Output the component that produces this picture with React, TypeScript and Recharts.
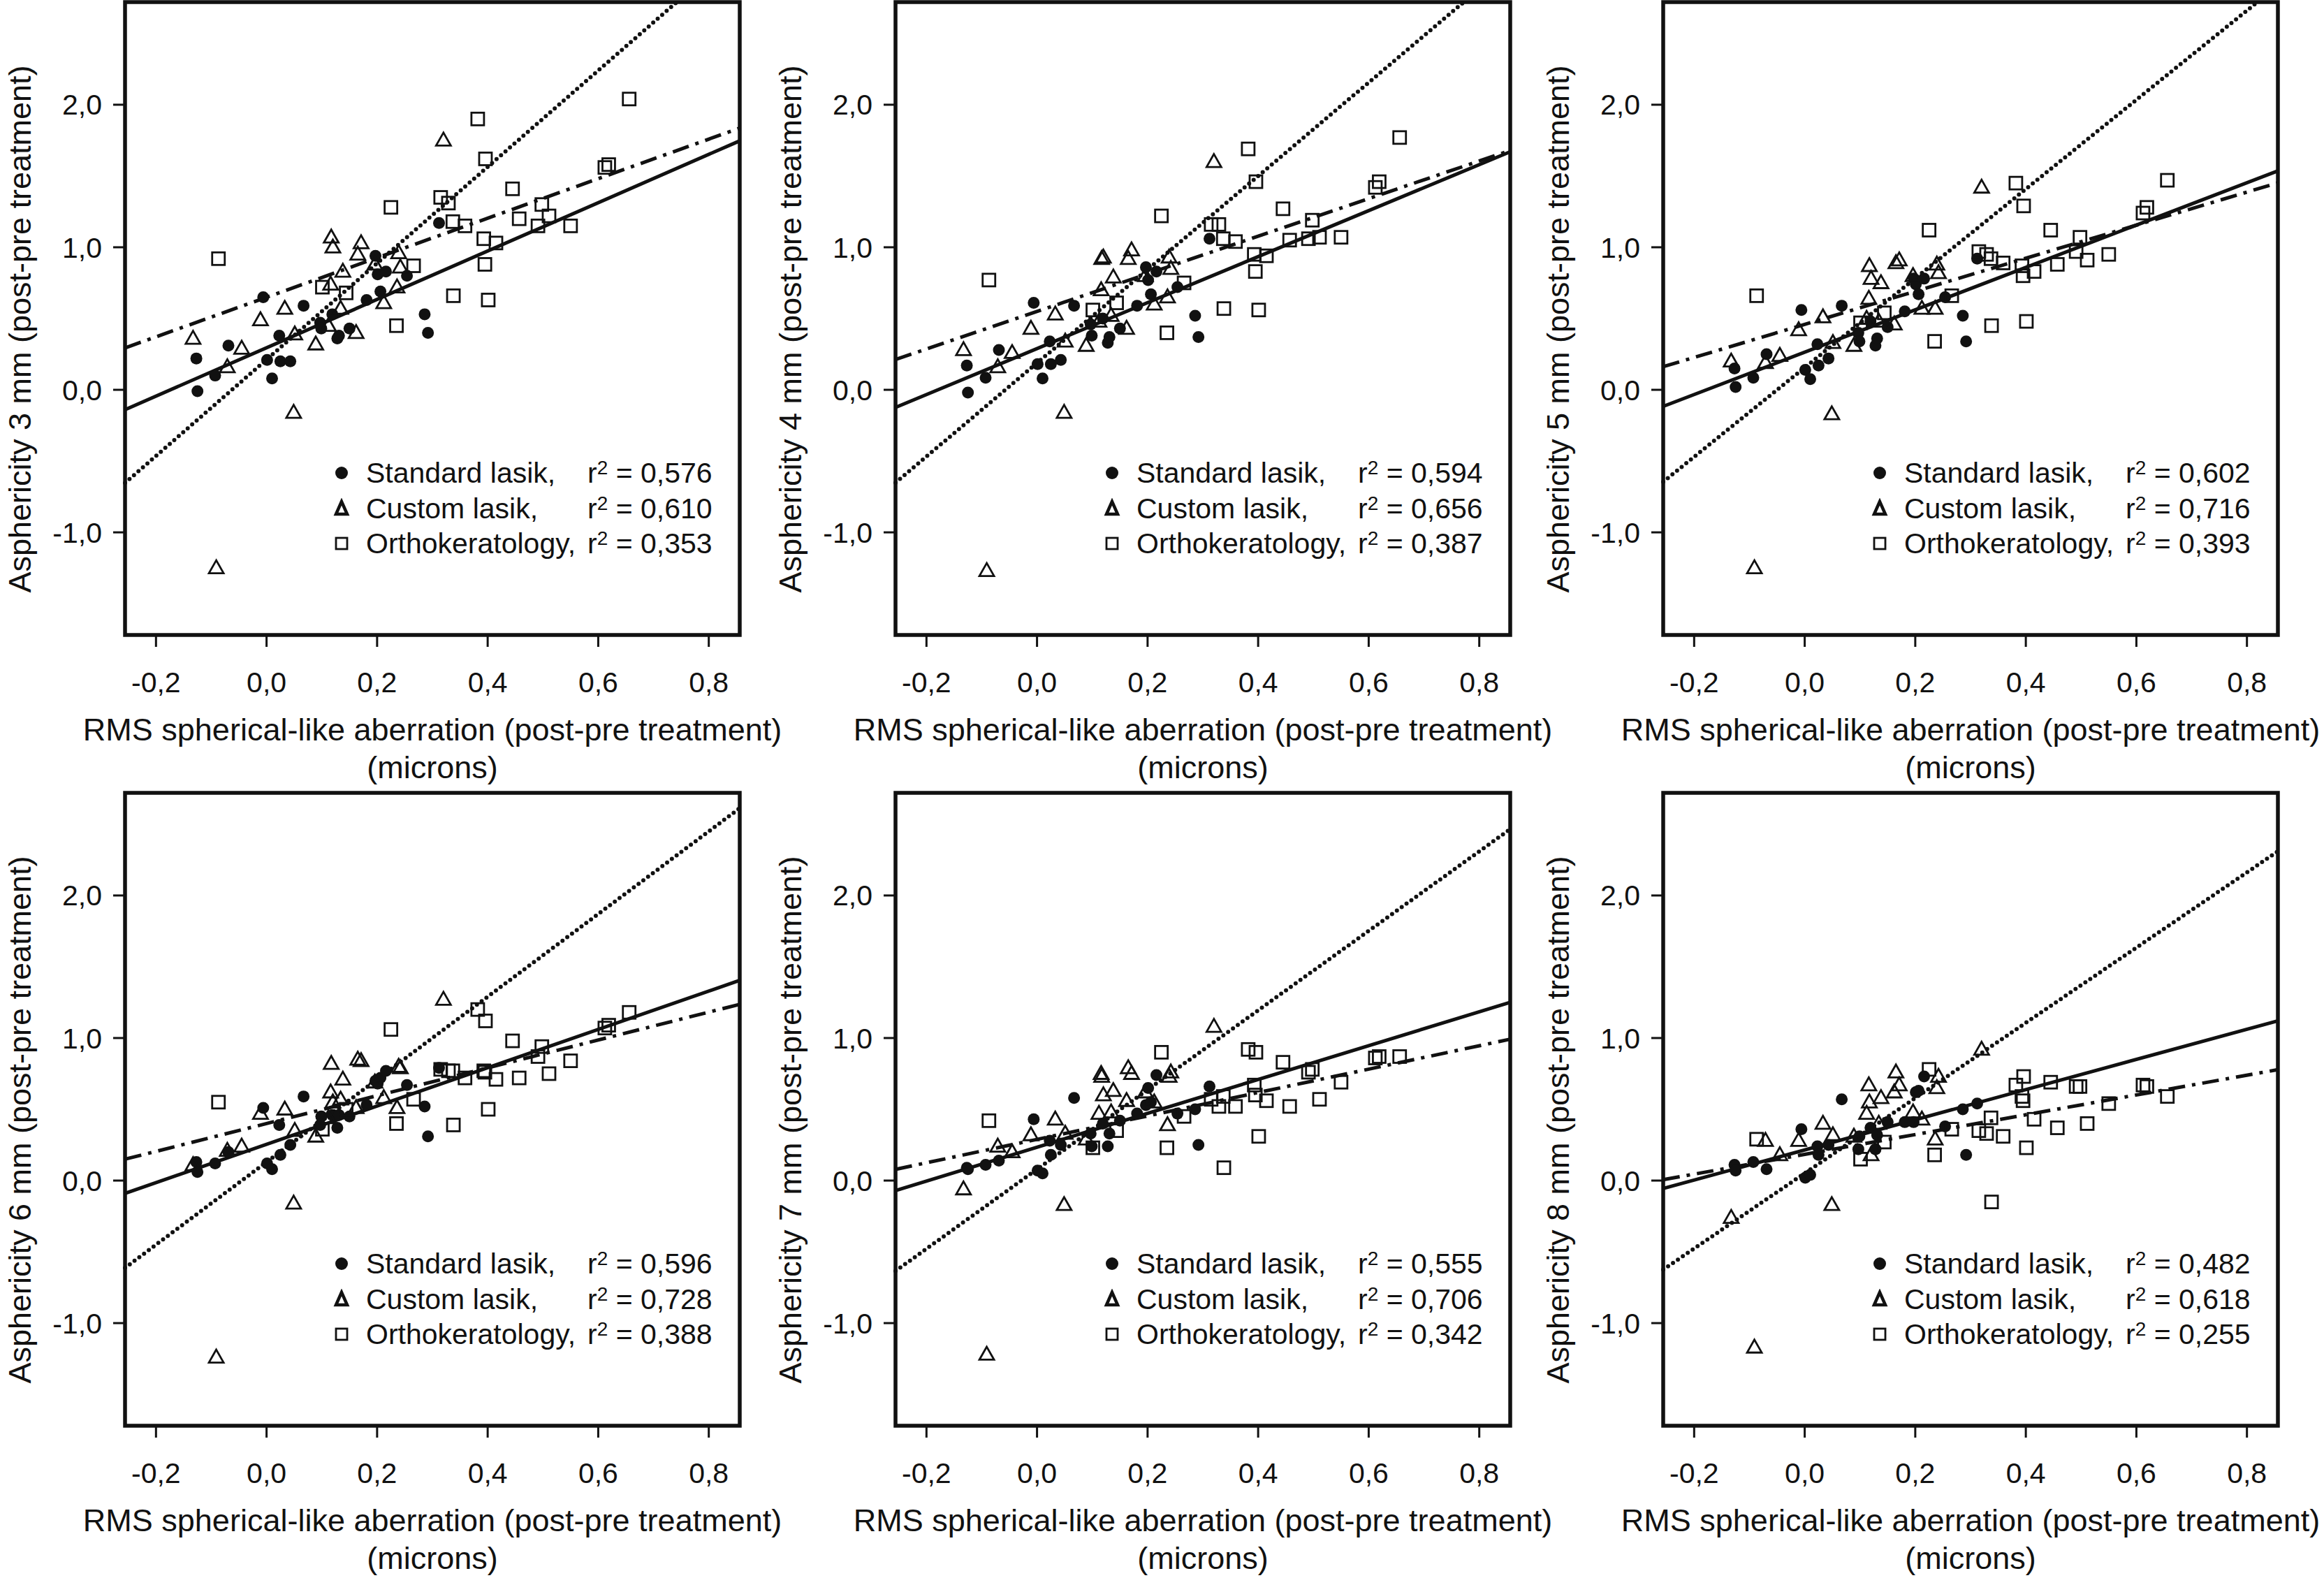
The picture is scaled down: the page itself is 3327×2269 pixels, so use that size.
import React from 'react';
import {
  ScatterChart,
  Scatter,
  XAxis,
  YAxis,
  ReferenceLine,
  ReferenceArea,
} from 'recharts';

// x values are shared by every panel (same eyes, same aberration change)
const standardX = [-0.127, -0.125, -0.093, -0.069, -0.006, 0.001, 0.010, 0.023, 0.025, 0.043, 0.067, 0.097, 0.099, 0.119, 0.128, 0.131, 0.150, 0.181, 0.197, 0.201, 0.206, 0.216, 0.254, 0.286, 0.292, 0.312];
const customX = [-0.133, -0.091, -0.071, -0.045, -0.011, 0.033, 0.049, 0.051, 0.089, 0.112, 0.116, 0.117, 0.120, 0.134, 0.138, 0.162, 0.165, 0.171, 0.196, 0.212, 0.236, 0.239, 0.242, 0.320];
const orthoX = [-0.087, 0.101, 0.144, 0.225, 0.235, 0.266, 0.315, 0.329, 0.337, 0.338, 0.359, 0.382, 0.396, 0.393, 0.395, 0.401, 0.415, 0.445, 0.457, 0.491, 0.498, 0.511, 0.550, 0.612, 0.619, 0.656];

// asphericity change, one row per zone (3..8 mm)
const standardY = [
  [0.22, -0.01, 0.10, 0.31, 0.65, 0.21, 0.08, 0.38, 0.20, 0.20, 0.59, 0.47, 0.43, 0.53, 0.36, 0.38, 0.43, 0.63, 0.94, 0.81, 0.69, 0.83, 0.80, 0.53, 0.40, 1.17],
  [0.17, -0.02, 0.085, 0.28, 0.61, 0.18, 0.08, 0.34, 0.18, 0.21, 0.59, 0.46, 0.38, 0.50, 0.33, 0.37, 0.43, 0.59, 0.86, 0.77, 0.67, 0.83, 0.72, 0.52, 0.37, 1.06],
  [0.15, 0.02, 0.085, 0.25, 0.56, 0.14, 0.075, 0.32, 0.17, 0.22, 0.59, 0.40, 0.34, 0.48, 0.31, 0.36, 0.44, 0.55, 0.78, 0.74, 0.67, 0.78, 0.65, 0.52, 0.34, 0.92],
  [0.13, 0.06, 0.12, 0.20, 0.51, 0.12, 0.08, 0.39, 0.18, 0.25, 0.59, 0.39, 0.45, 0.46, 0.37, 0.46, 0.45, 0.53, 0.70, 0.68, 0.72, 0.77, 0.67, 0.52, 0.31, 0.79],
  [0.09, 0.08, 0.11, 0.14, 0.43, 0.07, 0.05, 0.28, 0.18, 0.25, 0.58, 0.33, 0.24, 0.40, 0.24, 0.33, 0.42, 0.47, 0.53, 0.65, 0.55, 0.74, 0.47, 0.50, 0.25, 0.66],
  [0.11, 0.07, 0.13, 0.08, 0.36, 0.02, 0.04, 0.24, 0.18, 0.25, 0.57, 0.22, 0.31, 0.37, 0.22, 0.32, 0.41, 0.41, 0.41, 0.62, 0.63, 0.73, 0.38, 0.50, 0.18, 0.54],
];
const customY = [
  [0.36, -1.25, 0.16, 0.29, 0.49, 0.57, -0.16, 0.39, 0.32, 0.45, 0.74, 1.07, 1.00, 0.57, 0.83, 0.40, 0.95, 1.03, 0.88, 0.61, 0.72, 0.96, 0.86, 1.75],
  [0.28, -1.27, 0.16, 0.26, 0.43, 0.53, -0.16, 0.34, 0.31, 0.48, 0.70, 0.92, 0.93, 0.52, 0.79, 0.43, 0.92, 0.98, 0.80, 0.60, 0.65, 0.93, 0.85, 1.60],
  [0.20, -1.25, 0.19, 0.24, 0.42, 0.51, -0.17, 0.33, 0.31, 0.50, 0.64, 0.87, 0.78, 0.48, 0.75, 0.46, 0.89, 0.91, 0.80, 0.57, 0.57, 0.88, 0.82, 1.42],
  [0.11, -1.24, 0.21, 0.24, 0.47, 0.50, -0.16, 0.35, 0.31, 0.44, 0.62, 0.82, 0.55, 0.57, 0.71, 0.51, 0.85, 0.84, 0.69, 0.58, 0.51, 0.80, 0.79, 1.27],
  [-0.06, -1.22, 0.24, 0.20, 0.32, 0.43, -0.17, 0.33, 0.29, 0.47, 0.75, 0.73, 0.60, 0.48, 0.63, 0.56, 0.79, 0.75, 0.62, 0.55, 0.39, 0.73, 0.76, 1.08],
  [-0.26, -1.17, 0.28, 0.18, 0.28, 0.40, -0.17, 0.32, 0.31, 0.47, 0.67, 0.55, 0.18, 0.40, 0.58, 0.62, 0.76, 0.67, 0.48, 0.43, 0.29, 0.65, 0.73, 0.92],
];
const orthoY = [
  [0.92, 0.72, 0.68, 1.28, 0.45, 0.87, 1.35, 1.31, 1.18, 0.66, 1.15, 1.90, 1.62, 1.06, 0.88, 0.63, 1.03, 1.41, 1.20, 1.15, 1.30, 1.22, 1.15, 1.56, 1.58, 2.04],
  [0.77, 0.56, 0.61, 1.22, 0.40, 0.75, 1.16, 1.16, 1.06, 0.57, 1.04, 1.69, 1.46, 0.95, 0.83, 0.56, 0.94, 1.27, 1.05, 1.06, 1.19, 1.07, 1.07, 1.42, 1.46, 1.77],
  [0.66, 0.47, 0.54, 1.12, 0.34, 0.66, 0.97, 0.95, 0.92, 0.45, 0.89, 1.45, 1.29, 0.87, 0.80, 0.48, 0.83, 1.12, 0.88, 0.97, 1.07, 0.91, 0.95, 1.24, 1.28, 1.47],
  [0.55, 0.36, 0.50, 1.06, 0.40, 0.57, 0.78, 0.77, 0.77, 0.39, 0.72, 1.20, 1.12, 0.77, 0.76, 0.50, 0.71, 0.98, 0.72, 0.87, 0.94, 0.75, 0.84, 1.07, 1.09, 1.18],
  [0.42, 0.23, 0.35, 0.90, 0.23, 0.45, 0.57, 0.52, 0.59, 0.09, 0.52, 0.92, 0.90, 0.67, 0.60, 0.31, 0.56, 0.83, 0.52, 0.76, 0.78, 0.57, 0.69, 0.86, 0.87, 0.87],
  [0.29, 0.15, 0.27, 0.78, 0.18, 0.36, 0.35, 0.33, 0.44, -0.15, 0.31, 0.67, 0.73, 0.59, 0.56, 0.23, 0.43, 0.69, 0.37, 0.66, 0.66, 0.40, 0.54, 0.67, 0.66, 0.59],
];

// regression lines: [intercept, slope]
const standardFit = [[0.295, 1.696], [0.289, 1.613], [0.264, 1.486], [0.254, 1.344], [0.234, 1.187], [0.215, 1.058]];
const customFit = [[0.212, 3.38], [0.188, 3.28], [0.156, 3.131], [0.13, 2.9], [0.079, 2.788], [0.051, 2.639]];
const orthoFit = [[0.649, 1.387], [0.55, 1.319], [0.459, 1.16], [0.4, 0.977], [0.289, 0.821], [0.184, 0.694]];

const zones = ['3', '4', '5', '6', '7', '8'];
const seriesNames = ['Standard lasik,', 'Custom lasik,', 'Orthokeratology,'];
const rSquared = [
  ['0,576', '0,610', '0,353'],
  ['0,594', '0,656', '0,387'],
  ['0,602', '0,716', '0,393'],
  ['0,596', '0,728', '0,388'],
  ['0,555', '0,706', '0,342'],
  ['0,482', '0,618', '0,255'],
];
const xTicks = [-0.2, 0, 0.2, 0.4, 0.6, 0.8];
const yTicks = [-1, 0, 1, 2];
const X_DOMAIN = [-0.256, 0.856];
const Y_DOMAIN = [-1.72, 2.72];

const FONT = '"Liberation Sans", Arial, Helvetica, sans-serif';
const FS = 41;
const TITLE_FS = 45;
const colLeft = [179, 1282, 2381];
const rowTop = [3, 1135];
const BOX_W = 880;
const BOX_H = 906;
const Y_AXIS_W = 175;
const X_AXIS_H = 100;
const M_TOP = 10;
const M_RIGHT = 25;

const fmt = (v: number) => v.toFixed(1).replace('.', ',');

const toPoints = (xs: number[], ys: number[]) => xs.map((x, i) => ({ x, y: ys[i] }));

// end points of y = a + b x inside the plotting box
const fitSegment = ([a, b]: number[]) => {
  let x0 = X_DOMAIN[0];
  let x1 = X_DOMAIN[1];
  if (a + b * x1 > Y_DOMAIN[1]) x1 = (Y_DOMAIN[1] - a) / b;
  if (a + b * x0 < Y_DOMAIN[0]) x0 = (Y_DOMAIN[0] - a) / b;
  return [
    { x: x0, y: a + b * x0 },
    { x: x1, y: a + b * x1 },
  ];
};

const DotShape = (p: any) => <circle cx={p.cx} cy={p.cy} r={8.5} fill="#111" />;
const TriShape = (p: any) => (
  <polygon
    points={`${p.cx},${p.cy - 11} ${p.cx - 10.5},${p.cy + 7.5} ${p.cx + 10.5},${p.cy + 7.5}`}
    fill="none"
    stroke="#111"
    strokeWidth={2.8}
  />
);
const SquareShape = (p: any) => (
  <rect x={p.cx - 9} y={p.cy - 9} width={18} height={18} fill="none" stroke="#111" strokeWidth={2.8} />
);

const LegendMark = ({ k }: { k: number }) => (
  <svg width={30} height={30} style={{ display: 'block' }}>
    {k === 0 && <circle cx={15} cy={15} r={9} fill="#111" />}
    {k === 1 && <polygon points="15,5 7,23 23,23" fill="none" stroke="#111" strokeWidth={4.5} />}
    {k === 2 && <rect x={7} y={7} width={16} height={16} fill="none" stroke="#111" strokeWidth={2.8} />}
  </svg>
);

const Panel = ({ i }: { i: number }) => {
  const left = colLeft[i % 3];
  const top = rowTop[Math.floor(i / 3)];
  const bottom = top + BOX_H;
  const cx = left + BOX_W / 2;
  const legendRows = [674, 725, 775];
  const textStyle: React.CSSProperties = {
    position: 'absolute',
    fontSize: FS,
    lineHeight: '50px',
    whiteSpace: 'nowrap',
    color: '#111',
  };
  const titleStyle: React.CSSProperties = { ...textStyle, fontSize: TITLE_FS, lineHeight: '54px' };
  return (
    <>
      <div style={{ position: 'absolute', left: left - Y_AXIS_W, top: top - M_TOP }}>
        <ScatterChart
          width={Y_AXIS_W + BOX_W + M_RIGHT}
          height={M_TOP + BOX_H + X_AXIS_H}
          margin={{ top: M_TOP, right: M_RIGHT, bottom: 0, left: 0 }}
        >
          <XAxis
            dataKey="x"
            type="number"
            domain={X_DOMAIN}
            ticks={xTicks}
            allowDataOverflow
            height={X_AXIS_H}
            axisLine={false}
            tickSize={17}
            tickMargin={36}
            tickLine={{ stroke: '#111', strokeWidth: 3 }}
            tick={{ fontSize: FS, fill: '#111', fontFamily: FONT }}
            tickFormatter={fmt}
          />
          <YAxis
            dataKey="y"
            type="number"
            domain={Y_DOMAIN}
            ticks={yTicks}
            allowDataOverflow
            width={Y_AXIS_W}
            axisLine={false}
            tickSize={17}
            tickMargin={16}
            tickLine={{ stroke: '#111', strokeWidth: 3 }}
            tick={{ fontSize: FS, fill: '#111', fontFamily: FONT }}
            tickFormatter={fmt}
          />
          <ReferenceLine
            segment={fitSegment(standardFit[i])}
            stroke="#111"
            strokeWidth={5}
            ifOverflow="visible"
          />
          <ReferenceLine
            segment={fitSegment(customFit[i])}
            stroke="#111"
            strokeWidth={6}
            strokeDasharray="0 8.5"
            strokeLinecap="round"
            ifOverflow="visible"
          />
          <ReferenceLine
            segment={fitSegment(orthoFit[i])}
            stroke="#111"
            strokeWidth={5}
            strokeDasharray="24 10 5 10"
            ifOverflow="visible"
          />
          <Scatter data={toPoints(standardX, standardY[i])} shape={DotShape} isAnimationActive={false} />
          <Scatter data={toPoints(customX, customY[i])} shape={TriShape} isAnimationActive={false} />
          <Scatter data={toPoints(orthoX, orthoY[i])} shape={SquareShape} isAnimationActive={false} />
          <ReferenceArea
            x1={X_DOMAIN[0]}
            x2={X_DOMAIN[1]}
            y1={Y_DOMAIN[0]}
            y2={Y_DOMAIN[1]}
            fill="none"
            stroke="#111"
            strokeWidth={5.5}
            ifOverflow="visible"
          />
        </ScatterChart>
      </div>
      {seriesNames.map((name, k) => (
        <React.Fragment key={name}>
          <div style={{ position: 'absolute', left: left + 295, top: top + legendRows[k] - 15 }}>
            <LegendMark k={k} />
          </div>
          <div style={{ ...textStyle, left: left + 345, top: top + legendRows[k] - 25 }}>{name}</div>
          <div style={{ ...textStyle, left: left + 662, top: top + legendRows[k] - 25 }}>
            r<sup style={{ fontSize: 28, verticalAlign: 'top', lineHeight: '36px' }}>2</sup> = {rSquared[i][k]}
          </div>
        </React.Fragment>
      ))}
      <div style={{ ...titleStyle, left: cx - 700, width: 1400, textAlign: 'center', top: bottom + 136 - 27 }}>
        RMS spherical-like aberration (post-pre treatment)
      </div>
      <div style={{ ...titleStyle, left: cx - 700, width: 1400, textAlign: 'center', top: bottom + 190 - 27 }}>
        (microns)
      </div>
      <div
        style={{
          ...titleStyle,
          lineHeight: '46px',
          left: left - 150,
          top: top + BOX_H / 2 + 15,
          transform: 'translate(-50%, -50%) rotate(-90deg)',
        }}
      >
        {`Asphericity ${zones[i]} mm (post-pre treatment)`}
      </div>
    </>
  );
};

export default function App() {
  return (
    <div
      style={{
        position: 'absolute',
        left: 0,
        top: 0,
        width: 3327,
        height: 2269,
        background: '#fff',
        overflow: 'hidden',
        fontFamily: FONT,
      }}
    >
      {zones.map((z, i) => (
        <Panel key={z} i={i} />
      ))}
    </div>
  );
}
